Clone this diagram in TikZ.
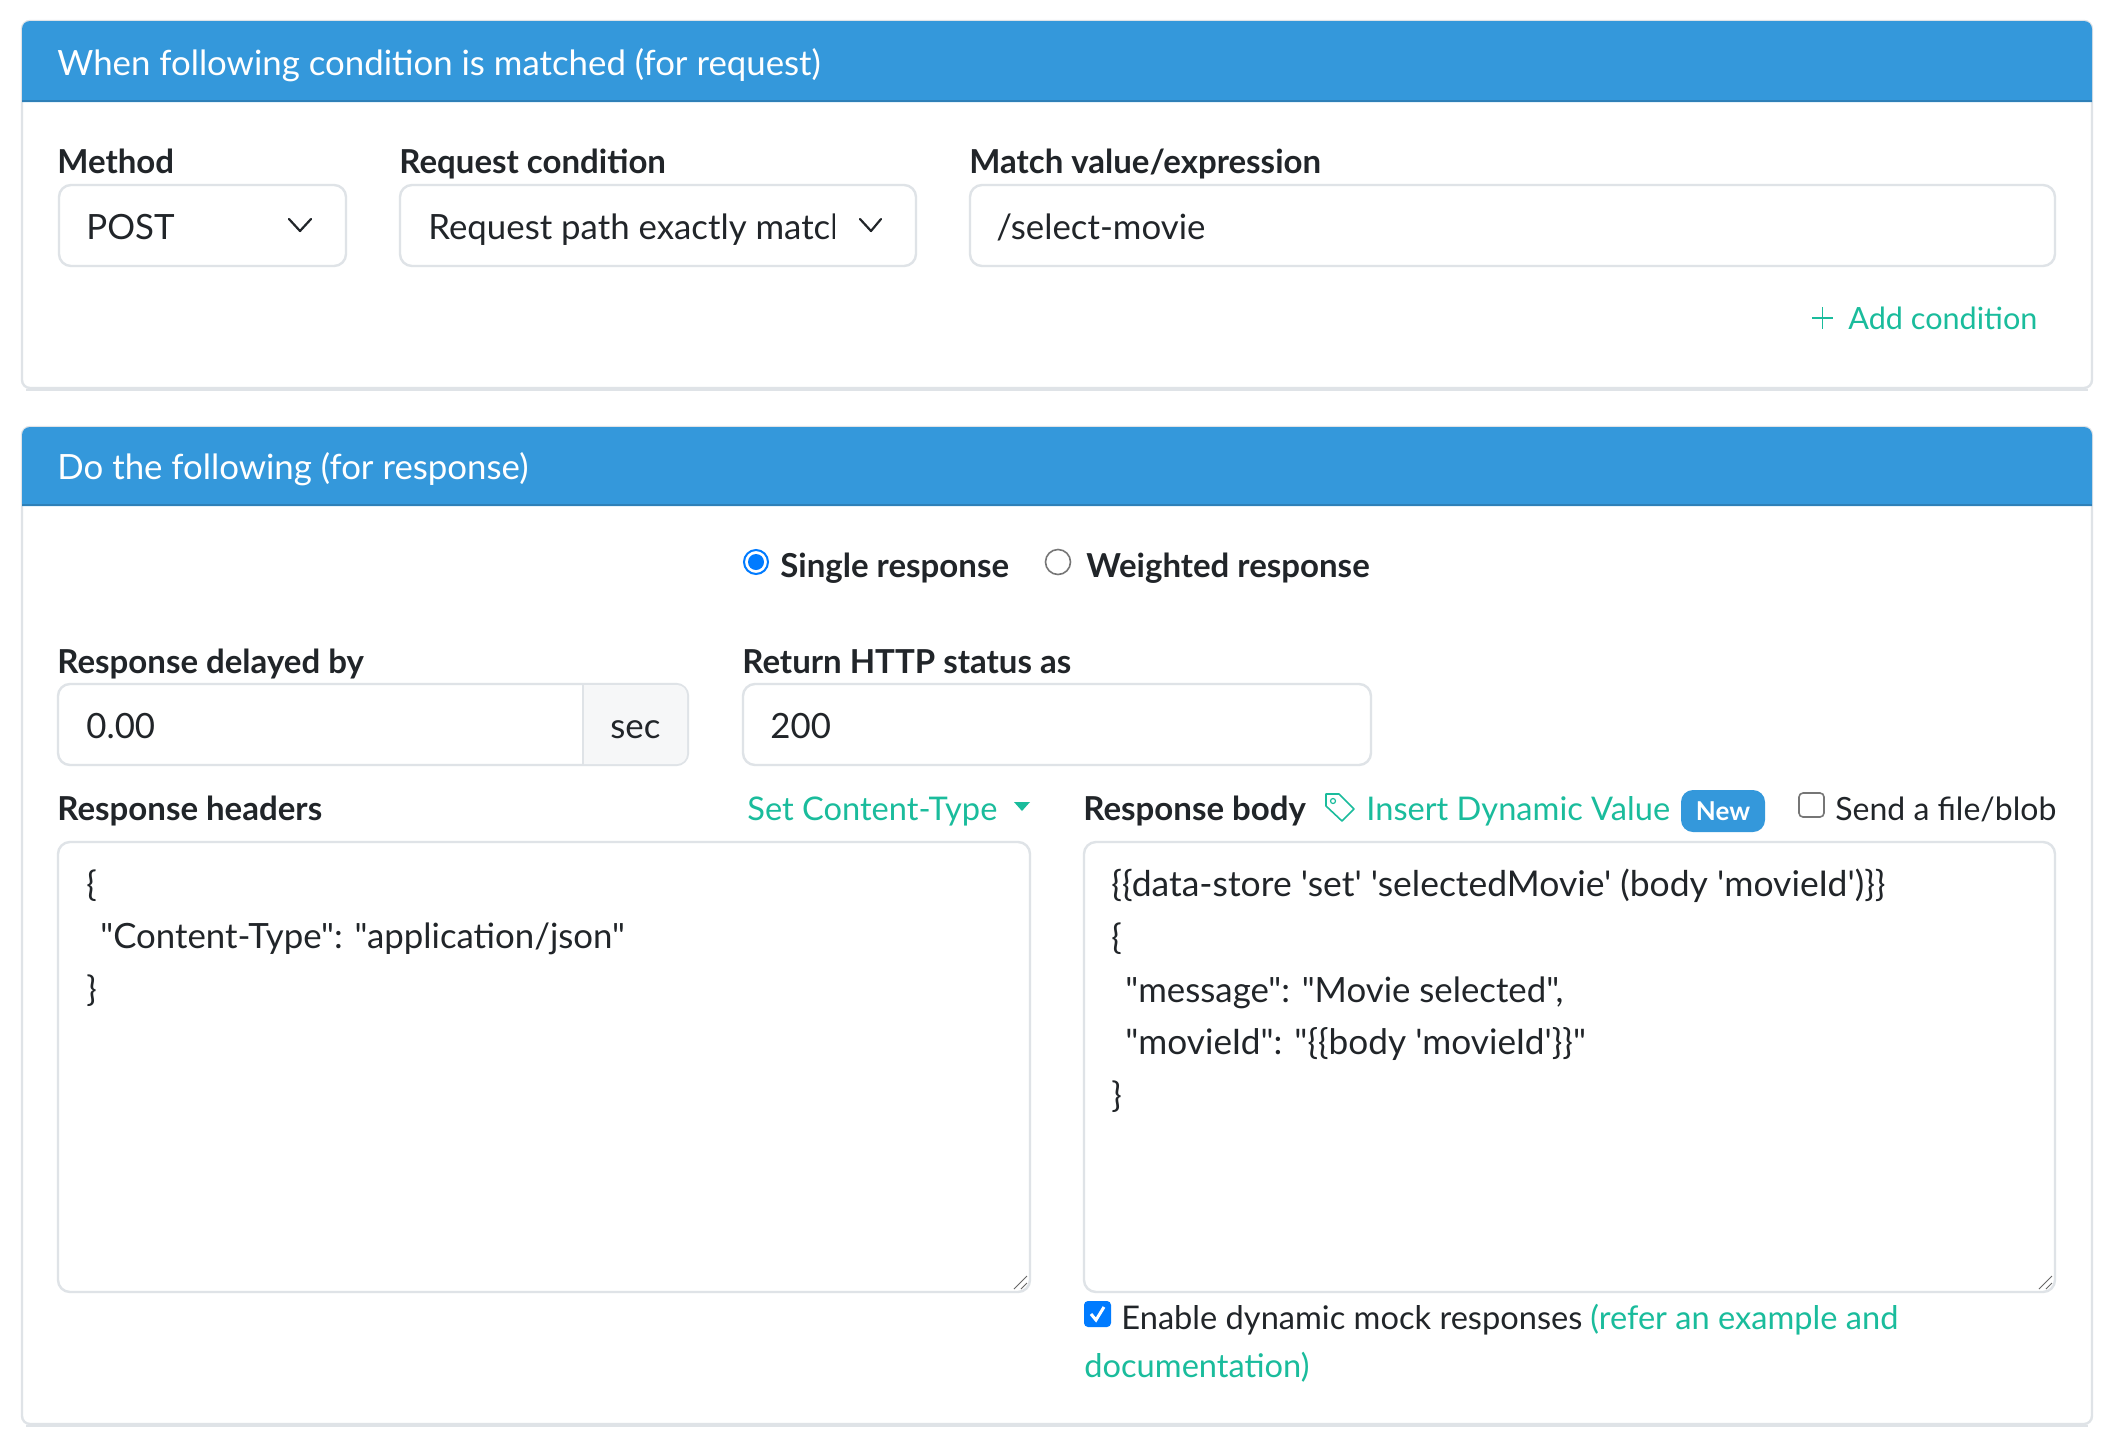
\documentclass[tikz,border=0pt]{standalone}
\usepackage{fontspec}
\setmainfont{Lato}[Ligatures=TeXOff]
\definecolor{headblue}{HTML}{3498DB}
\definecolor{headline}{HTML}{2E80B8}
\definecolor{edge}{HTML}{DFE3E7}
\definecolor{ink}{HTML}{212529}
\definecolor{linkgreen}{HTML}{1ABC9C}
\definecolor{tickblue}{HTML}{007BFF}
\definecolor{addon}{HTML}{F6F7F8}
\definecolor{radiogray}{HTML}{767676}
\tikzset{
  txt/.style={anchor=base west,inner sep=0pt,text=ink,font=\fontsize{17.4}{20}\selectfont},
  midtxt/.style={txt,font=\fontsize{16.3}{20}\selectfont},
  boldtxt/.style={txt,font=\fontsize{16.5}{20}\selectfont\bfseries},
  linktxt/.style={midtxt,text=linkgreen},
  headtxt/.style={txt,text=white},
  field/.style={draw=edge,line width=1.2pt,rounded corners=6pt,fill=white},
  card/.style={draw=edge,line width=1.2pt,rounded corners=4pt,fill=white},
  chev/.style={draw=ink,line width=1.1pt,line cap=round,line join=round},
  grip/.style={draw=black!60,line width=0.5pt}
}
\begin{document}
\begin{tikzpicture}[x=0.5pt,y=-0.5pt]
  \useasboundingbox (0,0) rectangle (2106,1442);
  % request card
  \draw[edge,line width=1pt] (26,390)--(2088,390);
  \draw[card] (22,21) rectangle (2092,388);
  \fill[headblue,rounded corners=4pt] (22,102)--(22,21)--(2092,21)--(2092,102);
  \fill[headline] (22,100) rectangle (2092,102);
  \node[headtxt] (reqhead) at (57,75) {When following condition is matched (for request)};
  \node[boldtxt] (methodlabel) at (57,173) {Method};
  \node[boldtxt] (condlabel) at (399,173) {Request condition};
  \node[boldtxt] (matchlabel) at (969,173) {Match value/expression};
  \draw[field] (59,185) rectangle (346,266);
  \draw[field] (400,185) rectangle (916,266);
  \draw[field] (970,185) rectangle (2055,266);
  \node[txt] (methodval) at (86,239) {POST};
  \begin{scope}
    \clip (420,190) rectangle (834,260);
    \node[txt] (condval) at (428,239) {Request path exactly matching};
  \end{scope}
  \node[txt] (matchval) at (996,239) {/select-movie};
  \draw[chev] (289,219)--(300,231)--(311,219);
  \draw[chev] (860,219)--(871,231)--(881,219);
  \draw[linkgreen,line width=0.9pt] (1812,318)--(1833,318) (1822.5,307)--(1822.5,329);
  \node[linktxt,font=\fontsize{15.3}{20}\selectfont] (addcond) at (1848,329) {Add condition};
  % response card
  \draw[edge,line width=1pt] (26,1426)--(2088,1426);
  \draw[card] (22,427) rectangle (2092,1424);
  \fill[headblue,rounded corners=4pt] (22,506)--(22,427)--(2092,427)--(2092,506);
  \fill[headline] (22,504) rectangle (2092,506);
  \node[headtxt] (resphead) at (57,479) {Do the following (for response)};
  \draw[tickblue,line width=1pt,fill=white] (756,562) circle (12);
  \fill[tickblue] (756,562) circle (8);
  \node[boldtxt] (singleresp) at (780,577) {Single response};
  \draw[radiogray,line width=0.8pt,fill=white] (1058,562) circle (12.5);
  \node[boldtxt] (weightresp) at (1086,577) {Weighted response};
  \node[boldtxt] (delaylabel) at (57,673) {Response delayed by};
  \node[boldtxt] (statuslabel) at (742,673) {Return HTTP status as};
  \draw[field] (58,684) rectangle (688,765);
  \fill[addon,rounded corners=5pt] (583,685)--(687,685)--(687,764)--(583,764);
  \draw[edge,line width=1.2pt] (583,684)--(583,765);
  \node[txt] (delayval) at (86,738) {0.00};
  \node[txt] (secunit) at (610,738) {sec};
  \draw[field] (743,684) rectangle (1371,765);
  \node[txt] (statusval) at (770,738) {200};
  \node[boldtxt] (headerslabel) at (57,820) {Response headers};
  \node[linktxt] (settype) at (747,820) {Set Content-Type};
  \fill[linkgreen] (1014,802)--(1030,802)--(1022,811)--cycle;
  \node[boldtxt] (bodylabel) at (1083,820) {Response body};
  % tag icon
  \draw[linkgreen,line width=0.8pt,line join=round] (1326,794)--(1339,794)--(1354,809)--(1342,821)--(1326,806)--cycle;
  \draw[linkgreen,line width=0.6pt] (1333,801) circle (2.5);
  \node[linktxt] (insertval) at (1366,820) {Insert Dynamic Value};
  \fill[headblue,rounded corners=6pt] (1681,790) rectangle (1765,832);
  \node[txt,text=white,font=\fontsize{13}{16}\selectfont\bfseries,anchor=base] (newbadge) at (1723,820) {New};
  \draw[radiogray,line width=0.8pt,fill=white,rounded corners=2pt] (1799,793) rectangle (1824,817);
  \node[midtxt,font=\fontsize{16}{20}\selectfont] (sendfile) at (1835,820) {Send a file/blob};
  \draw[field] (58,842) rectangle (1030,1292);
  \draw[field] (1084,842) rectangle (2055,1292);
  \foreach \gx in {1030,2055} {
    \draw[grip] (\gx-16,1289)--(\gx-3,1276);
    \draw[grip] (\gx-9,1289)--(\gx-3,1283);
  }
  \node[txt] (hdrone) at (86,896) {\{};
  \node[txt] (hdrtwo) at (100,948) {"Content-Type": "application/json"};
  \node[txt] (hdrthree) at (86,1001) {\}};
  \node[txt,font=\fontsize{17.75}{20}\selectfont] (bodyone) at (1111,896) {\{\{data-store 'set' 'selectedMovie' (body 'movieId')\}\}};
  \node[txt] (bodytwo) at (1111,949) {\{};
  \node[txt] (bodythree) at (1125,1002) {"message": "Movie selected",};
  \node[txt,font=\fontsize{17.6}{20}\selectfont] (bodyfour) at (1125,1054) {"movieId": "\{\{body 'movieId'\}\}"};
  \node[txt] (bodyfive) at (1111,1107) {\}};
  \fill[tickblue,rounded corners=2pt] (1084,1301) rectangle (1111,1327);
  \draw[white,line width=1.5pt] (1091,1314)--(1096,1320)--(1104,1307);
  \node[midtxt] (enablemock) at (1121,1329) {Enable dynamic mock responses};
  \node[linktxt] (referone) at (1590,1329) {(refer an example and};
  \node[linktxt] (refertwo) at (1084,1377) {documentation)};
\end{tikzpicture}
\end{document}
